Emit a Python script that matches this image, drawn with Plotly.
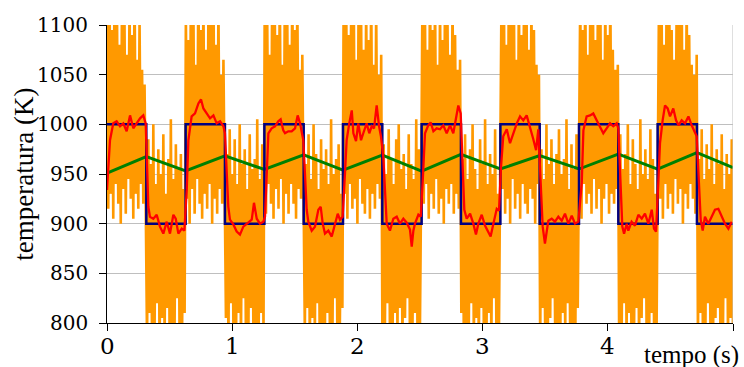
import numpy as np
import plotly.graph_objects as go

# ---------------- data ----------------
# fast (orange) signal, sampled every 0.01 s, one row per half-cycle
orange = [
    1120, 915, 1140, 930, 1095, 905, 1150, 940, 1110, 920, 1080, 900, 1135, 935, 1100, 910, 1070, 945, 1125, 925, 1090, 905, 1145, 930, 1065, 915, 1105, 940, 1055, 920, 1040, 935,
    780, 985, 810, 960, 775, 1000, 795, 940, 820, 975, 770, 950, 805, 990, 785, 930, 815, 965, 790, 1005, 775, 945, 800, 980, 825, 955, 780, 970, 795, 935, 810,
    1110, 925, 1085, 900, 1140, 935, 1125, 910, 1060, 945, 1150, 920, 1095, 905, 1130, 930, 1075, 915, 1115, 940, 1100, 900, 1145, 925, 1080, 910, 1120, 935, 1050, 920, 1065, 945,
    805, 970, 780, 995, 820, 950, 790, 985, 770, 940, 810, 1000, 785, 960, 825, 975, 775, 935, 800, 990, 815, 955, 780, 965, 795, 1005, 770, 945, 810, 980, 790,
    1135, 910, 1100, 940, 1070, 920, 1150, 905, 1115, 935, 1090, 915, 1140, 945, 1060, 900, 1125, 930, 1105, 910, 1080, 940, 1145, 920, 1095, 905, 1130, 935, 1055, 925, 1070, 915,
    790, 960, 815, 990, 775, 945, 805, 1000, 785, 970, 820, 935, 770, 985, 800, 955, 780, 975, 810, 940, 795, 1005, 775, 950, 825, 965, 785, 980, 800, 930, 815,
    1125, 930, 1145, 905, 1090, 940, 1110, 915, 1150, 925, 1065, 900, 1135, 945, 1100, 920, 1075, 910, 1120, 935, 1085, 905, 1140, 930, 1060, 915, 1115, 940, 1050, 925, 1070,
    775, 980, 800, 950, 820, 995, 785, 965, 770, 940, 810, 985, 790, 1000, 815, 955, 780, 970, 805, 935, 825, 990, 775, 960, 795, 945, 810, 1005, 785, 975, 800, 950,
    1140, 920, 1105, 940, 1075, 905, 1150, 930, 1095, 915, 1130, 945, 1060, 910, 1120, 925, 1085, 900, 1145, 935, 1100, 920, 1070, 940, 1125, 910, 1090, 930, 1055, 915, 1065,
    810, 965, 785, 990, 770, 945, 800, 975, 820, 1000, 780, 955, 805, 935, 775, 985, 815, 960, 790, 1005, 770, 940, 810, 970, 785, 950, 825, 995, 795, 930, 780, 965,
    1115, 935, 1140, 910, 1080, 925, 1150, 900, 1100, 945, 1125, 915, 1065, 930, 1135, 905, 1090, 940, 1110, 920, 1145, 910, 1075, 935, 1120, 925, 1095, 900, 1060, 940, 1050,
    780, 975, 815, 945, 790, 1000, 770, 960, 805, 985, 825, 940, 785, 970, 800, 995, 775, 950, 810, 965, 790, 1005, 820, 935, 780, 980, 800, 955, 770, 990, 815, 945,
    1130, 905, 1095, 940, 1145, 920, 1070, 930, 1120, 910, 1150, 945, 1085, 915, 1105, 935, 1140, 900, 1065, 925, 1125, 940, 1090, 910, 1135, 930, 1075, 920, 1055, 935, 1060,
    800, 990, 775, 955, 820, 970, 785, 1000, 810, 940, 770, 985, 795, 960, 815, 935, 780, 1005, 805, 950, 825, 975, 790, 945, 770, 995, 810, 965, 785, 930, 800, 980,
    1145, 925, 1110, 905, 1080, 940, 1135, 915, 1150, 930, 1095, 910, 1065, 945, 1120, 920, 1100, 935, 1140, 900, 1075, 930, 1125, 915, 1090, 940, 1060, 925, 1050, 910, 1070,
    785, 965, 810, 995, 775, 945, 800, 980, 820, 955, 790, 1000, 770, 940, 805, 975, 815, 960, 780, 990, 795, 935, 825, 970, 785, 950, 805, 985, 790,
]
orange_dt = 0.01

# set-point square wave (blue)
blue_t = [0, 0.314, 0.628, 0.942, 1.257, 1.571, 1.885, 2.199, 2.513, 2.827,
          3.142, 3.456, 3.770, 4.084, 4.398, 4.712, 5.0]
blue_v = [1000, 900, 1000, 900, 1000, 900, 1000, 900, 1000, 900,
          1000, 900, 1000, 900, 1000, 900, 900]

# slow response (green)
green_t = [0, 0.314, 0.628, 0.942, 1.257, 1.571, 1.885, 2.199, 2.513, 2.827,
           3.142, 3.456, 3.770, 4.084, 4.398, 4.712, 5.0]
green_v = [951, 967.6, 953, 968.3, 954.6, 969.3, 954, 969, 953, 969.8,
           955, 968.5, 955, 970, 955, 971.5, 956.4]

# measured temperature (red)
red_t = [
    0, 0.024, 0.05, 0.077, 0.104, 0.13, 0.157, 0.184, 0.21, 0.237, 0.264, 0.29, 0.309,
    0.322, 0.33, 0.343, 0.37, 0.397, 0.423, 0.45, 0.477, 0.503, 0.53, 0.549, 0.57, 0.597, 0.618,
    0.637, 0.65, 0.676, 0.703, 0.73, 0.751, 0.77, 0.796, 0.823, 0.85, 0.876, 0.903, 0.93, 0.942,
    0.956, 0.969, 0.982, 1.01, 1.036, 1.062, 1.089, 1.116, 1.142, 1.156, 1.174, 1.196, 1.222, 1.249, 1.262,
    1.275, 1.289, 1.315, 1.342, 1.368, 1.387, 1.408, 1.422, 1.448, 1.475, 1.502, 1.523, 1.542, 1.555, 1.568,
    1.581, 1.595, 1.608, 1.635, 1.661, 1.688, 1.707, 1.723, 1.741, 1.768, 1.795, 1.821, 1.843, 1.861, 1.882,
    1.901, 1.914, 1.935, 1.955, 1.968, 1.989, 2.007, 2.029, 2.047, 2.074, 2.095, 2.114, 2.133, 2.154, 2.173, 2.188,
    2.207, 2.22, 2.234, 2.26, 2.287, 2.314, 2.34, 2.367, 2.394, 2.42, 2.434, 2.447, 2.46, 2.487, 2.506,
    2.521, 2.54, 2.566, 2.585, 2.607, 2.633, 2.66, 2.686, 2.713, 2.74, 2.766, 2.788, 2.806, 2.825,
    2.841, 2.854, 2.873, 2.9, 2.926, 2.947, 2.966, 2.993, 3.019, 3.046, 3.064, 3.086, 3.113, 3.131,
    3.147, 3.165, 3.193, 3.219, 3.245, 3.273, 3.299, 3.325, 3.352, 3.379, 3.405, 3.427, 3.445,
    3.464, 3.48, 3.498, 3.512, 3.525, 3.552, 3.578, 3.605, 3.632, 3.658, 3.685, 3.712, 3.738, 3.765,
    3.792, 3.805, 3.831, 3.858, 3.884, 3.911, 3.938, 3.964, 3.991, 4.018, 4.044, 4.071, 4.084,
    4.103, 4.116, 4.13, 4.151, 4.164, 4.19, 4.217, 4.244, 4.271, 4.297, 4.324, 4.351, 4.369, 4.385,
    4.403, 4.417, 4.438, 4.457, 4.478, 4.497, 4.523, 4.545, 4.565, 4.59, 4.617, 4.644, 4.67, 4.691, 4.71,
    4.728, 4.742, 4.758, 4.776, 4.803, 4.83, 4.856, 4.883, 4.91, 4.936, 4.963, 4.99,
]
red_v = [
    934, 984, 1001, 1003, 998, 1001, 993, 1009, 996, 1001, 1006, 1009, 1001,
    951, 917, 907, 905, 909, 897, 890, 902, 890, 909, 905, 890, 895, 893,
    934, 984, 1008, 1011, 1021, 1025, 1016, 1011, 1006, 1009, 1001, 1003, 998, 991,
    947, 917, 904, 899, 892, 889, 897, 900, 902, 904, 921, 905, 900, 902, 907,
    951, 991, 996, 998, 1003, 1005, 994, 991, 993, 993, 996, 1009, 1001, 991, 984,
    951, 914, 902, 893, 897, 914, 917, 900, 890, 893, 887, 900, 910, 904, 907,
    951, 984, 1001, 1014, 991, 983, 1001, 984, 991, 1001, 991, 998, 996, 1019, 998, 988,
    967, 934, 900, 893, 905, 907, 900, 905, 901, 894, 877, 893, 900, 909, 907,
    941, 991, 999, 1002, 993, 996, 995, 999, 991, 999, 991, 1009, 1019, 1011,
    957, 914, 905, 910, 900, 889, 900, 909, 898, 892, 887, 900, 915, 913,
    957, 988, 995, 981, 991, 1001, 1008, 1004, 1009, 998, 985, 974, 995,
    941, 897, 880, 890, 903, 905, 902, 907, 903, 910, 900, 908, 900, 902,
    941, 994, 1008, 1009, 1011, 1004, 998, 991, 996, 1001, 998, 1001, 996,
    941, 897, 890, 900, 893, 902, 898, 909, 905, 910, 900, 914, 895, 892,
    941, 981, 1004, 1019, 1016, 1008, 1016, 1004, 999, 1004, 1001, 1008, 999, 994, 988,
    941, 904, 893, 907, 900, 908, 914, 915, 907, 900, 895, 902,
]

x_ticks = [0, 1, 2, 3, 4, 5]
x_tick_labels = ["0", "1", "2", "3", "4"]
y_ticks = [800, 850, 900, 950, 1000, 1050, 1100]

# ---------------- figure ----------------
orange_t = np.arange(len(orange)) * orange_dt

FONT = "Liberation Serif"
NUM_FONT = "DejaVu Serif"

fig = go.Figure()
fig.add_trace(go.Scatter(x=orange_t, y=orange, mode="lines",
                         line=dict(color="#FF9900", width=2.6), hoverinfo="skip"))
fig.add_trace(go.Scatter(x=green_t, y=green_v, mode="lines",
                         line=dict(color="#008000", width=3)))
fig.add_trace(go.Scatter(x=blue_t, y=blue_v, mode="lines", line_shape="hv",
                         line=dict(color="#000080", width=2.5)))
fig.add_trace(go.Scatter(x=red_t, y=red_v, mode="lines",
                         line=dict(color="#FF0000", width=2.3)))

annotations = []
# y tick labels
for v in y_ticks:
    annotations.append(dict(text=str(v), xref="paper", yref="y", x=0, y=v,
                            xanchor="right", yanchor="middle", xshift=-17,
                            showarrow=False, font=dict(family=NUM_FONT, size=20, color="black")))
# x tick labels
for i, lab in enumerate(x_tick_labels):
    annotations.append(dict(text=lab, xref="x", yref="paper", x=x_ticks[i], y=0,
                            xanchor="center", yanchor="middle", yshift=-23,
                            showarrow=False, font=dict(family=NUM_FONT, size=23, color="black")))
annotations += [
    dict(text="temperatura (K)", xref="paper", yref="paper", x=-0.133, y=0.5,
         textangle=-90, showarrow=False, xanchor="center", yanchor="middle",
         font=dict(family=FONT, size=27, color="black")),
    dict(text="tempo (s)", xref="paper", yref="paper", x=1.013, y=-0.107,
         showarrow=False, xanchor="right", yanchor="middle",
         font=dict(family=FONT, size=25, color="black")),
]

fig.update_layout(
    width=744, height=367,
    margin=dict(l=107, r=11, t=25, b=44, autoexpand=False),
    paper_bgcolor="white", plot_bgcolor="white",
    showlegend=False,
    font=dict(family=FONT, size=24, color="black"),
    xaxis=dict(range=[0, 5], tickvals=x_ticks, showticklabels=False,
               showgrid=False, zeroline=False, automargin=False,
               showline=True, linecolor="black", linewidth=1,
               ticks="outside", ticklen=7, tickcolor="black"),
    yaxis=dict(range=[800, 1100], tickvals=y_ticks, showticklabels=False,
               showgrid=True, gridcolor="#BFBFBF", gridwidth=1,
               zeroline=False, automargin=False,
               showline=True, linecolor="black", linewidth=1,
               ticks="outside", ticklen=7, tickcolor="black"),
    shapes=[dict(type="line", xref="x", yref="y", x0=5, x1=5, y0=800, y1=1100,
                 line=dict(color="#BFBFBF", width=1), layer="above")],
    annotations=annotations,
)

fig.write_html("out.html")
